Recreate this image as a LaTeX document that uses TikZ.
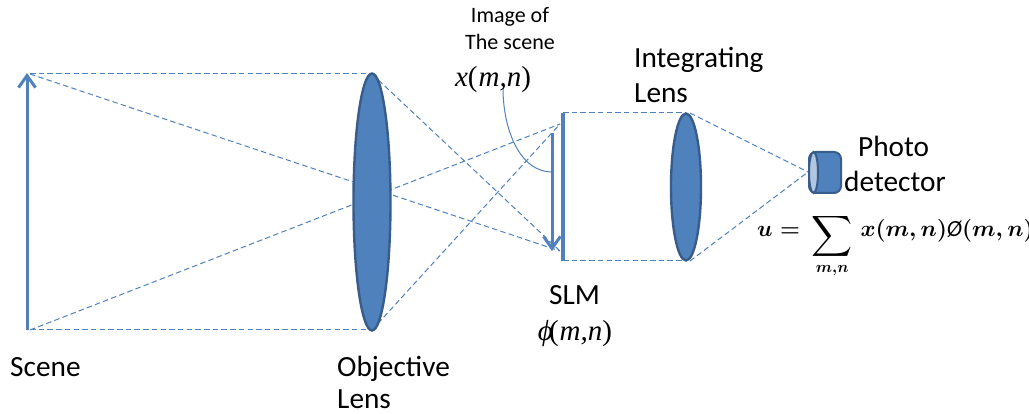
\documentclass[tikz,border=0pt]{standalone}
\usepackage{fontspec}
\usepackage{amsmath}
\usepackage{graphicx}
\setmainfont{Carlito}
\newfontfamily\mathser{Liberation Serif}
\usetikzlibrary{shapes.geometric,arrows.meta}
\definecolor{lensfill}{HTML}{4F81BD}
\definecolor{lensedge}{HTML}{385D8A}
\newsavebox{\eqbox}
\tikzset{
 x=1pt,y=-1pt,
 ray/.style={draw=lensfill,dash pattern=on 5.5pt off 3.2pt,line width=1pt},
 lensshape/.style={ellipse,draw=lensedge,fill=lensfill,line width=2.4pt,inner sep=0pt},
 bluearrow/.style={draw=lensfill,line width=3pt,-{Straight Barb[length=12pt,width=17pt,line width=3pt]}},
 label/.style={inner sep=0pt,text=black,font=\fontsize{29.3}{30}\selectfont,anchor=base west},
 smalllabel/.style={inner sep=0pt,text=black,font=\fontsize{22}{22}\selectfont,anchor=base},
 mathlabel/.style={inner sep=0pt,text=black,font=\mathser\fontsize{29}{29}\selectfont\itshape,anchor=base}
}
\begin{document}
\sbox{\eqbox}{\scalebox{1.1}{\fontsize{21}{24}\selectfont\boldmath$u={}\mathop{\raisebox{-0.6ex}{\scalebox{1.25}{$\displaystyle\sum$}}}\limits_{m,n}\hspace{3pt}x(m,n)\mbox{\itshape\O}(m,n)$}}
\begin{tikzpicture}
\useasboundingbox (0,0) rectangle (1029,414);
% anchor points
\coordinate (st) at (30,74);
\coordinate (sb) at (30,330);
\coordinate (lt) at (372,74);
\coordinate (lb) at (372,330);
\coordinate (at) at (27,73);
\coordinate (ab) at (27,330);
\coordinate (slmt) at (563,113);
\coordinate (slmb) at (563,261);
\coordinate (slmu) at (560,124);
\coordinate (slml) at (560,251);
\coordinate (it) at (552,133);
\coordinate (ib) at (552,251);
\coordinate (imgmid) at (552,172);
\coordinate (tt) at (686,113);
\coordinate (tb) at (686,261);
\coordinate (tt2) at (690,113);
\coordinate (tb2) at (690,261);
\coordinate (pd) at (808,172);
\coordinate (capt) at (503,88);
% rays
\draw[ray] (st) -- (lt);
\draw[ray] (sb) -- (lb);
\draw[ray] (st) -- (slml);
\draw[ray] (sb) -- (slmu);
\draw[ray] (lt) -- (slml);
\draw[ray] (lb) -- (slmu);
\draw[ray] (slmt) -- (tt);
\draw[ray] (slmb) -- (tb);
\draw[ray] (tt2) -- (pd);
\draw[ray] (tb2) -- (pd);
% scene and image arrows
\draw[bluearrow] (ab) -- (at);
\draw[bluearrow] (it) -- (ib);
\draw[draw=lensfill,line width=3.8pt] (slmt) -- (slmb);
\draw[draw=lensfill,line width=1pt] (capt) .. controls (503,130) and (520,172) .. (imgmid);
% lenses
\node[lensshape,minimum width=37pt,minimum height=257pt] (objlens) at (372,202) {};
\node[lensshape,minimum width=30pt,minimum height=147pt] (intlens) at (686,187) {};
% detector
\draw[draw=lensedge,fill=lensfill,line width=2pt,rounded corners=7pt] (809,152) rectangle (841,193);
\draw[draw=lensedge,fill=lensfill!45!white,line width=2pt] (813.5,172.5) ellipse (4.5 and 20.5);
% labels
\node[smalllabel] (img1) at (510,23) {Image of};
\node[smalllabel] (img2) at (510,50) {The scene};
\node[mathlabel] (xmn) at (493,87) {x{\upshape(}\kern1pt m,n{\upshape)}};
\node[label] (int1) at (634,68) {Integrating};
\node[label] (int2) at (634,103) {Lens};
\node[label] (ph1) at (858,157) {Photo};
\node[label] (ph2) at (844,192) {detector};
\node[label] (scn) at (10,376) {Scene};
\node[label] (obj1) at (337,376) {Objective};
\node[label] (obj2) at (337,408) {Lens};
\node[label] (slm) at (549,305) {SLM};
\node[mathlabel] (phi) at (575,341) {ϕ\kern-4pt{\upshape(}\kern1pt m,n{\upshape)}};
\node[inner sep=0pt,text=black,anchor=base west] (eq) at (757,237) {\usebox{\eqbox}};
\end{tikzpicture}
\end{document}
